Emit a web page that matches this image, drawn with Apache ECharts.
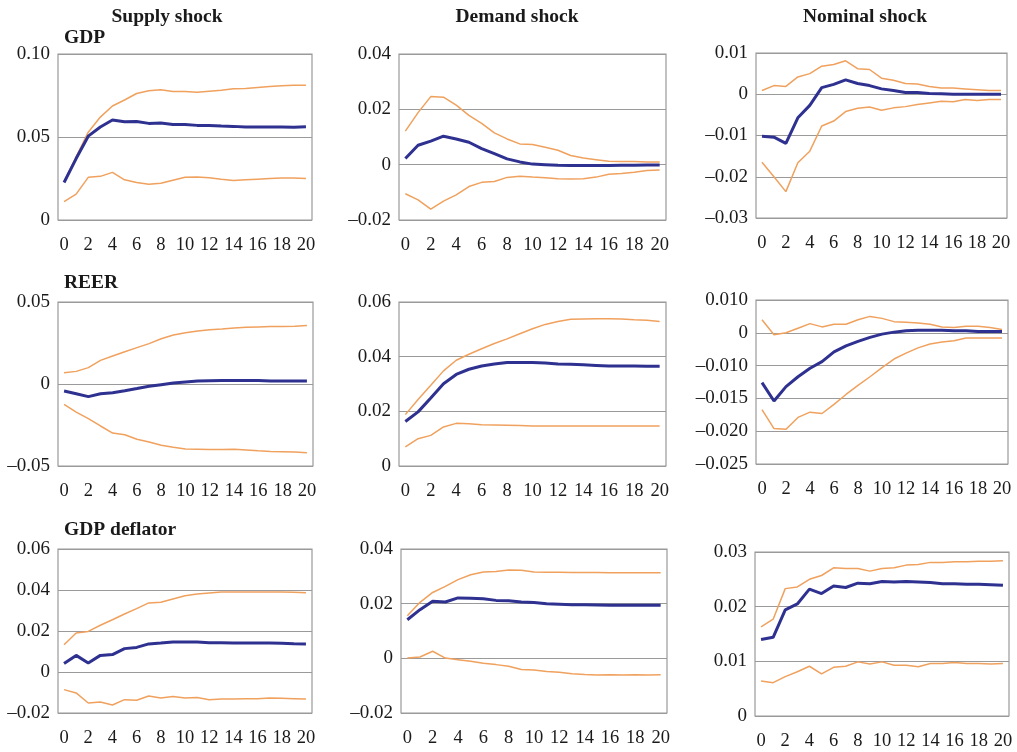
<!DOCTYPE html>
<html>
<head>
<meta charset="utf-8">
<script src="https://cdn.jsdelivr.net/npm/echarts@6/dist/echarts.min.js"></script>
<style>
html,body{margin:0;padding:0;background:#fff;}
#chart{width:1017px;height:752px;}
</style>
</head>
<body>
<div id="chart"></div>
<script>
// ---- categories (quarters after shock) ----
const periods = ["0","1","2","3","4","5","6","7","8","9","10","11","12","13","14","15","16","17","18","19","20"];

// ---- column / row titles ----
const shockTitles = ["Supply shock", "Demand shock", "Nominal shock"];
const variableTitles = ["GDP", "REER", "GDP deflator"];

// ---- tick labels ----
const ticksGdpSupply = ["0", "0.05", "0.10"];
const ticksGdpDemand = ["–0.02", "0", "0.02", "0.04"];
const ticksGdpNominal = ["–0.03", "–0.02", "–0.01", "0", "0.01"];
const ticksReerSupply = ["–0.05", "0", "0.05"];
const ticksReerDemand = ["0", "0.02", "0.04", "0.06"];
const ticksReerNominal = ["–0.025", "–0.020", "–0.015", "–0.010", "0", "0.010"];
const ticksDefSupply = ["–0.02", "0", "0.02", "0.04", "0.06"];
const ticksDefDemand = ["–0.02", "0", "0.02", "0.04"];
const ticksDefNominal = ["0", "0.01", "0.02", "0.03"];

// ---- GDP, supply shock ----
const gdpSupplyMid = [0.0226,0.037,0.0505,0.056,0.0602,0.0592,0.0594,0.0582,0.0584,0.0576,0.0576,0.057,0.057,0.0566,0.0564,0.056,0.056,0.056,0.056,0.0558,0.0562];
const gdpSupplyUp  = [0.023,0.038,0.0529,0.062,0.0687,0.0723,0.0762,0.0778,0.0784,0.0774,0.0774,0.077,0.0776,0.0782,0.079,0.0792,0.0798,0.0804,0.0808,0.0812,0.0812];
const gdpSupplyLo  = [0.0111,0.0156,0.0257,0.0263,0.0287,0.0242,0.0226,0.0216,0.0222,0.024,0.0257,0.0259,0.0255,0.0246,0.0238,0.0242,0.0246,0.025,0.0253,0.0253,0.025];

// ---- GDP, demand shock ----
const gdpDemandMid = [0.0022,0.007,0.0085,0.0103,0.0093,0.0081,0.0058,0.004,0.0021,0.001,0.0002,0,-0.0002,-0.0003,-0.0003,-0.0003,-0.0003,-0.0002,-0.0002,-0.0001,-0.0001];
const gdpDemandUp  = [0.0121,0.0188,0.0246,0.0244,0.0215,0.0178,0.0149,0.0115,0.0093,0.0075,0.0073,0.0063,0.0052,0.0033,0.0024,0.0018,0.0012,0.0011,0.0011,0.001,0.001];
const gdpDemandLo  = [-0.0105,-0.0127,-0.0161,-0.0132,-0.0109,-0.0079,-0.0064,-0.0061,-0.0046,-0.0042,-0.0045,-0.0047,-0.0051,-0.0052,-0.0051,-0.0045,-0.0035,-0.0032,-0.0027,-0.0021,-0.0019];

// ---- GDP, nominal shock ----
const gdpNominalMid = [-0.0102,-0.0104,-0.0119,-0.0057,-0.0027,0.0016,0.0024,0.0035,0.0026,0.0021,0.0013,0.0009,0.0004,0.0004,0.0002,0.0001,0,0,0,0,0];
const gdpNominalUp  = [0.0009,0.0021,0.0019,0.0042,0.005,0.0068,0.0072,0.0081,0.0062,0.006,0.0039,0.0034,0.0026,0.0025,0.0019,0.0015,0.0015,0.0013,0.0011,0.0009,0.0009];
const gdpNominalLo  = [-0.0165,-0.02,-0.0236,-0.0166,-0.0138,-0.0077,-0.0065,-0.0042,-0.0034,-0.0031,-0.0039,-0.0033,-0.003,-0.0025,-0.0021,-0.0017,-0.0018,-0.0013,-0.0015,-0.0013,-0.0013];

// ---- REER, supply shock ----
const reerSupplyMid = [-0.0043,-0.0059,-0.0077,-0.0059,-0.0053,-0.0041,-0.0028,-0.0014,-0.0004,0.0006,0.0012,0.0018,0.002,0.0022,0.0022,0.0022,0.0022,0.0018,0.0018,0.0018,0.0018];
const reerSupplyUp  = [0.0069,0.0077,0.01,0.0144,0.0171,0.0197,0.0222,0.0246,0.0276,0.0299,0.0313,0.0323,0.0331,0.0335,0.0341,0.0346,0.0348,0.035,0.035,0.0352,0.0356];
const reerSupplyLo  = [-0.0124,-0.0171,-0.0211,-0.0256,-0.0299,-0.0309,-0.0337,-0.0354,-0.0374,-0.0386,-0.0396,-0.0398,-0.04,-0.04,-0.0398,-0.0402,-0.0407,-0.0411,-0.0413,-0.0415,-0.0419];

// ---- REER, demand shock ----
const reerDemandMid = [0.0163,0.0198,0.0249,0.0301,0.0335,0.0354,0.0366,0.0373,0.0379,0.0379,0.0379,0.0377,0.0373,0.0372,0.037,0.0368,0.0366,0.0366,0.0366,0.0365,0.0365];
const reerDemandUp  = [0.0188,0.0243,0.0295,0.0348,0.0387,0.0409,0.0429,0.0448,0.0465,0.0484,0.0502,0.0518,0.0529,0.0537,0.0538,0.0539,0.0539,0.0538,0.0535,0.0533,0.0529];
const reerDemandLo  = [0.007,0.01,0.0112,0.0143,0.0156,0.0155,0.0151,0.015,0.0149,0.0148,0.0146,0.0146,0.0146,0.0146,0.0146,0.0146,0.0146,0.0146,0.0146,0.0146,0.0146];

// ---- REER, nominal shock (plotted on the axis grid, labels as printed) ----
const reerNominalMid = [-0.0076,-0.0104,-0.0082,-0.0067,-0.0054,-0.0044,-0.0029,-0.002,-0.0013,-0.0007,-0.0002,0.0001,0.0003,0.0004,0.0004,0.0004,0.0003,0.0003,0.0002,0.0002,0.0002];
const reerNominalUp  = [0.002,-0.0003,0,0.0007,0.0014,0.0009,0.0013,0.0013,0.002,0.0025,0.0022,0.0017,0.0016,0.0015,0.0013,0.0009,0.0008,0.001,0.001,0.0008,0.0005];
const reerNominalLo  = [-0.0117,-0.0146,-0.0147,-0.0129,-0.0121,-0.0123,-0.0109,-0.0094,-0.008,-0.0067,-0.0053,-0.004,-0.0031,-0.0023,-0.0017,-0.0014,-0.0012,-0.0008,-0.0008,-0.0008,-0.0008];

// ---- GDP deflator, supply shock ----
const defSupplyMid = [0.0041,0.0081,0.0044,0.0081,0.0085,0.0114,0.012,0.0137,0.0141,0.0146,0.0146,0.0146,0.0143,0.0143,0.0141,0.0141,0.0141,0.0141,0.014,0.0138,0.0137];
const defSupplyUp  = [0.0133,0.019,0.0198,0.0228,0.0255,0.0283,0.0309,0.0337,0.034,0.0356,0.0372,0.038,0.0385,0.039,0.039,0.039,0.039,0.039,0.039,0.0389,0.0387];
const defSupplyLo  = [-0.0086,-0.0102,-0.0151,-0.0146,-0.0161,-0.0135,-0.0138,-0.0117,-0.0127,-0.0119,-0.0127,-0.0124,-0.0135,-0.0132,-0.0132,-0.013,-0.013,-0.0127,-0.0128,-0.013,-0.0132];

// ---- GDP deflator, demand shock ----
const defDemandMid = [0.0141,0.0178,0.0209,0.0206,0.0221,0.022,0.0218,0.0212,0.0211,0.0206,0.0204,0.02,0.0198,0.0196,0.0196,0.0195,0.0194,0.0194,0.0194,0.0194,0.0194];
const defDemandUp  = [0.0156,0.0205,0.0241,0.0263,0.0288,0.0306,0.0316,0.0318,0.0323,0.0322,0.0316,0.0315,0.0315,0.0314,0.0314,0.0314,0.0313,0.0313,0.0313,0.0313,0.0313];
const defDemandLo  = [0.0001,0.0005,0.0026,0.0001,-0.0005,-0.0011,-0.0018,-0.0023,-0.0029,-0.0041,-0.0043,-0.0048,-0.0051,-0.0056,-0.0059,-0.0061,-0.006,-0.0061,-0.006,-0.0061,-0.006];

// ---- GDP deflator, nominal shock ----
const defNominalMid = [0.014,0.0144,0.0194,0.0205,0.0232,0.0224,0.0238,0.0235,0.0243,0.0242,0.0246,0.0245,0.0246,0.0245,0.0244,0.0242,0.0242,0.0241,0.0241,0.024,0.0239];
const defNominalUp  = [0.0163,0.0177,0.0233,0.0236,0.025,0.0257,0.0271,0.027,0.027,0.0265,0.027,0.0271,0.0276,0.0277,0.0281,0.0281,0.0282,0.0282,0.0283,0.0283,0.0284];
const defNominalLo  = [0.0064,0.0061,0.0072,0.0081,0.0091,0.0077,0.0089,0.0091,0.0099,0.0095,0.0099,0.0093,0.0093,0.009,0.0096,0.0096,0.0098,0.0096,0.0096,0.0095,0.0096];

// ---- layout / axis config ----
const panels = [
  {rect:[58,54,254,166],  ax:[0,0.10,0.05],     ticks:ticksGdpSupply,  d:[gdpSupplyMid,gdpSupplyUp,gdpSupplyLo]},
  {rect:[399,54,267,166], ax:[-0.02,0.04,0.02], ticks:ticksGdpDemand,  d:[gdpDemandMid,gdpDemandUp,gdpDemandLo]},
  {rect:[756,53,251,165], ax:[-0.03,0.01,0.01], ticks:ticksGdpNominal, d:[gdpNominalMid,gdpNominalUp,gdpNominalLo]},
  {rect:[58,302,255,164], ax:[-0.05,0.05,0.05], ticks:ticksReerSupply, d:[reerSupplyMid,reerSupplyUp,reerSupplyLo]},
  {rect:[399,302,267,164],ax:[0,0.06,0.02],     ticks:ticksReerDemand, d:[reerDemandMid,reerDemandUp,reerDemandLo]},
  {rect:[756,300,252,164],ax:[-0.02,0.005,0.005],ticks:ticksReerNominal,d:[reerNominalMid,reerNominalUp,reerNominalLo]},
  {rect:[58,549,254,164], ax:[-0.02,0.06,0.02], ticks:ticksDefSupply,  d:[defSupplyMid,defSupplyUp,defSupplyLo]},
  {rect:[401,549,266,164],ax:[-0.02,0.04,0.02], ticks:ticksDefDemand,  d:[defDemandMid,defDemandUp,defDemandLo]},
  {rect:[755,552,254,164],ax:[0,0.03,0.01],     ticks:ticksDefNominal, d:[defNominalMid,defNominalUp,defNominalLo]}
];

const FONT = '"Liberation Serif", "Times New Roman", serif';
const BLUE = '#2e3190';
const ORANGE = '#f0a15e';
const GRIDC = '#9a9a9a';

const grid = [], xAxis = [], yAxis = [], series = [];
panels.forEach((p, i) => {
  grid.push({left:p.rect[0], top:p.rect[1], width:p.rect[2], height:p.rect[3],
    show:true, borderColor:GRIDC, borderWidth:1.2, backgroundColor:'transparent'});
  xAxis.push({type:'category', gridIndex:i, data:periods, boundaryGap:true,
    axisLine:{show:false}, axisTick:{show:false}, splitLine:{show:false},
    axisLabel:{interval:1, color:'#1a1a1a', fontFamily:FONT, fontSize:18.5, margin:16}});
  const mn = p.ax[0], mx = p.ax[1], iv = p.ax[2], tk = p.ticks;
  yAxis.push({type:'value', gridIndex:i, min:mn, max:mx, interval:iv,
    axisLine:{show:false}, axisTick:{show:false},
    splitLine:{show:true, lineStyle:{color:GRIDC, width:1.2}},
    axisLabel:{color:'#1a1a1a', fontFamily:FONT, fontSize:19, margin:8,
      formatter: v => { const k = Math.round((v - mn) / iv); return tk[k] !== undefined ? tk[k] : ''; }}});
  const styles = [{c:BLUE,w:3,z:3},{c:ORANGE,w:1.5,z:2},{c:ORANGE,w:1.5,z:2}];
  p.d.forEach((arr, j) => {
    series.push({type:'line', xAxisIndex:i, yAxisIndex:i, data:arr, showSymbol:false,
      symbol:'none', z:styles[j].z, animation:false,
      lineStyle:{color:styles[j].c, width:styles[j].w}});
  });
});

const titles = [];
const colCenters = [162, 512, 860];
shockTitles.forEach((t, i) => titles.push({text:t, left:colCenters[i], top:2, textAlign:'center',
  textStyle:{fontFamily:FONT, fontWeight:'bold', fontSize:19.5, color:'#1a1a1a'}}));
const rowTops = [23, 268, 515];
variableTitles.forEach((t, i) => titles.push({text:t, left:59, top:rowTops[i],
  textStyle:{fontFamily:FONT, fontWeight:'bold', fontSize:19.5, color:'#1a1a1a'}}));

const chart = echarts.init(document.getElementById('chart'), null, {renderer:'canvas'});
chart.setOption({animation:false, backgroundColor:'#fff', title:titles, grid, xAxis, yAxis, series});
</script>
</body>
</html>
